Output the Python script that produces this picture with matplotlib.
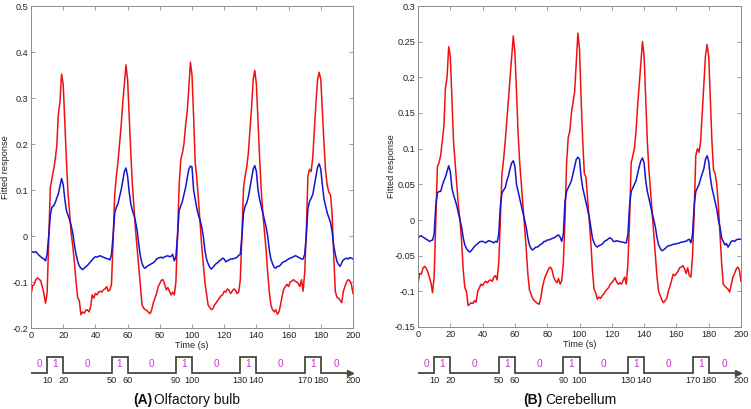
import numpy as np
import matplotlib
matplotlib.use("Agg")
import matplotlib.pyplot as plt

plt.rcParams['font.family'] = ['Liberation Sans', 'DejaVu Sans']
plt.rcParams['axes.unicode_minus'] = False

time_s = list(range(0, 201))

ob_red = [
    -0.128, -0.108, -0.105, -0.095, -0.091, -0.094, -0.097, -0.110, -0.125, -0.146,
    -0.125, -0.010, 0.105, 0.125, 0.143, 0.165, 0.195, 0.265, 0.292, 0.352,
    0.330, 0.245, 0.165, 0.093, 0.050, 0.005, -0.023, -0.059, -0.100, -0.135,
    -0.140, -0.171, -0.165, -0.168, -0.162, -0.160, -0.165, -0.155, -0.128, -0.135,
    -0.125, -0.128, -0.122, -0.120, -0.122, -0.117, -0.115, -0.110, -0.120, -0.117,
    -0.105, -0.010, 0.090, 0.130, 0.160, 0.200, 0.240, 0.290, 0.330, 0.372,
    0.340, 0.260, 0.180, 0.110, 0.060, 0.010, -0.030, -0.070, -0.110, -0.150,
    -0.157, -0.160, -0.162, -0.166, -0.169, -0.160, -0.145, -0.135, -0.125, -0.110,
    -0.103, -0.096, -0.095, -0.105, -0.117, -0.112, -0.120, -0.128, -0.122, -0.128,
    -0.100, 0.000, 0.110, 0.165, 0.180, 0.200, 0.240, 0.270, 0.320, 0.378,
    0.350, 0.260, 0.160, 0.125, 0.080, 0.030, -0.020, -0.060, -0.100, -0.125,
    -0.150, -0.155, -0.160, -0.158, -0.150, -0.145, -0.140, -0.135, -0.130, -0.128,
    -0.120, -0.122, -0.115, -0.118, -0.125, -0.120, -0.115, -0.118, -0.125, -0.122,
    -0.095, 0.000, 0.105, 0.130, 0.150, 0.180, 0.230, 0.280, 0.340, 0.360,
    0.330, 0.250, 0.170, 0.100, 0.050, 0.010, -0.030, -0.080, -0.120, -0.150,
    -0.160, -0.165, -0.160, -0.170, -0.165, -0.150, -0.130, -0.115, -0.110, -0.105,
    -0.110, -0.100, -0.098, -0.095, -0.098, -0.100, -0.103, -0.110, -0.095, -0.120,
    -0.080, 0.010, 0.130, 0.145, 0.140, 0.170, 0.230, 0.290, 0.340, 0.356,
    0.340, 0.270, 0.200, 0.140, 0.110, 0.095, 0.090, 0.050, -0.040, -0.120,
    -0.133, -0.135, -0.140, -0.145, -0.120, -0.110, -0.100, -0.095, -0.097, -0.105,
    -0.125,
]

ob_blue = [
    -0.035, -0.034, -0.036, -0.034, -0.038, -0.042, -0.045, -0.048, -0.050, -0.054,
    -0.040, 0.000, 0.045, 0.063, 0.065, 0.072, 0.082, 0.092, 0.108, 0.125,
    0.112, 0.080, 0.055, 0.045, 0.035, 0.022, 0.005, -0.020, -0.040, -0.055,
    -0.065, -0.070, -0.073, -0.070, -0.067, -0.064, -0.060, -0.056, -0.052, -0.048,
    -0.045, -0.046, -0.044, -0.043, -0.045, -0.046, -0.048, -0.049, -0.050, -0.052,
    -0.040, 0.000, 0.050, 0.062, 0.070, 0.085, 0.100, 0.120, 0.140, 0.148,
    0.130, 0.095, 0.070, 0.055, 0.045, 0.030, 0.010, -0.020, -0.045, -0.060,
    -0.068, -0.070, -0.066, -0.064, -0.062, -0.060, -0.058, -0.055, -0.050, -0.048,
    -0.047, -0.046, -0.048, -0.045, -0.044, -0.043, -0.045, -0.044, -0.040, -0.054,
    -0.045, 0.000, 0.055, 0.065, 0.075, 0.090, 0.105, 0.125, 0.145, 0.152,
    0.150, 0.100, 0.080, 0.060, 0.045, 0.035, 0.020, 0.000, -0.030, -0.050,
    -0.060, -0.068, -0.072, -0.068, -0.064, -0.060, -0.058, -0.054, -0.052, -0.048,
    -0.050, -0.056, -0.054, -0.052, -0.050, -0.050, -0.049, -0.048, -0.046, -0.042,
    -0.040, 0.000, 0.050, 0.065, 0.072, 0.085, 0.105, 0.125, 0.145, 0.153,
    0.140, 0.100, 0.080, 0.065, 0.050, 0.035, 0.020, 0.000, -0.030, -0.050,
    -0.060, -0.068, -0.070, -0.066, -0.066, -0.063, -0.058, -0.056, -0.055, -0.052,
    -0.050, -0.048, -0.047, -0.045, -0.043, -0.044, -0.046, -0.048, -0.050, -0.050,
    -0.040, 0.000, 0.060, 0.075, 0.082, 0.090, 0.110, 0.130, 0.150, 0.157,
    0.145, 0.110, 0.080, 0.065, 0.050, 0.040, 0.030, 0.010, -0.020, -0.040,
    -0.055, -0.062, -0.066, -0.058, -0.052, -0.050, -0.048, -0.050, -0.047, -0.048,
    -0.050,
]

cb_red = [
    -0.090, -0.075, -0.076, -0.068, -0.065, -0.067, -0.072, -0.080, -0.088, -0.102,
    -0.080, 0.000, 0.075, 0.080, 0.090, 0.110, 0.130, 0.185, 0.200, 0.243,
    0.230, 0.170, 0.110, 0.080, 0.050, 0.020, 0.000, -0.030, -0.070, -0.095,
    -0.100, -0.120, -0.118, -0.116, -0.117, -0.113, -0.115, -0.100, -0.095, -0.090,
    -0.092, -0.088, -0.086, -0.088, -0.085, -0.084, -0.086, -0.080, -0.078, -0.084,
    -0.060, 0.000, 0.065, 0.085, 0.110, 0.140, 0.170, 0.200, 0.230, 0.258,
    0.235, 0.180, 0.120, 0.080, 0.050, 0.020, -0.010, -0.040, -0.075, -0.098,
    -0.104, -0.110, -0.113, -0.115, -0.117, -0.118, -0.110, -0.095, -0.085, -0.078,
    -0.073, -0.068, -0.066, -0.070, -0.080, -0.085, -0.088, -0.082, -0.090, -0.085,
    -0.060, 0.000, 0.080, 0.115, 0.125, 0.150, 0.165, 0.180, 0.220, 0.262,
    0.240, 0.170, 0.110, 0.065, 0.060, 0.030, 0.000, -0.030, -0.070, -0.097,
    -0.102, -0.111, -0.108, -0.110, -0.106, -0.104, -0.100, -0.097, -0.095, -0.090,
    -0.088, -0.085, -0.081, -0.087, -0.090, -0.088, -0.090, -0.085, -0.080, -0.090,
    -0.060, 0.000, 0.080, 0.090, 0.100, 0.125, 0.160, 0.190, 0.220, 0.250,
    0.230, 0.170, 0.110, 0.070, 0.040, 0.010, -0.020, -0.050, -0.080, -0.100,
    -0.106, -0.112, -0.116, -0.113, -0.110, -0.100, -0.093, -0.085, -0.076, -0.078,
    -0.075, -0.072, -0.067, -0.066, -0.064, -0.068, -0.075, -0.067, -0.078, -0.080,
    -0.050, 0.010, 0.090, 0.100, 0.095, 0.110, 0.150, 0.190, 0.230, 0.246,
    0.230, 0.170, 0.110, 0.070, 0.065, 0.050, 0.020, -0.020, -0.060, -0.090,
    -0.093, -0.095, -0.097, -0.101, -0.090, -0.080, -0.075, -0.069, -0.066, -0.070,
    -0.086,
]

cb_blue = [
    -0.025, -0.023, -0.022, -0.024, -0.025, -0.027, -0.028, -0.030, -0.029, -0.028,
    -0.020, 0.020, 0.038, 0.040, 0.040, 0.048, 0.055, 0.060, 0.068, 0.076,
    0.068, 0.045, 0.035, 0.028, 0.020, 0.010, 0.000, -0.010, -0.025, -0.035,
    -0.040, -0.043, -0.045, -0.043, -0.040, -0.037, -0.035, -0.033, -0.031, -0.030,
    -0.030, -0.031, -0.032, -0.030, -0.029, -0.030, -0.031, -0.032, -0.030, -0.031,
    -0.020, 0.020, 0.038, 0.042, 0.045, 0.055, 0.062, 0.072, 0.080, 0.083,
    0.075, 0.050, 0.040, 0.030, 0.020, 0.010, 0.000, -0.010, -0.025, -0.035,
    -0.040, -0.042, -0.040, -0.038, -0.038, -0.036, -0.034, -0.033, -0.030, -0.030,
    -0.028, -0.028, -0.027, -0.026, -0.025, -0.024, -0.022, -0.021, -0.024, -0.030,
    -0.020, 0.025, 0.040, 0.045, 0.050, 0.055, 0.065, 0.075, 0.085, 0.088,
    0.085, 0.060, 0.045, 0.035, 0.025, 0.015, 0.005, -0.010, -0.025, -0.032,
    -0.036, -0.038, -0.036, -0.035, -0.034, -0.031, -0.029, -0.028, -0.026, -0.025,
    -0.027, -0.030, -0.030, -0.029, -0.030, -0.030, -0.031, -0.031, -0.032, -0.032,
    -0.020, 0.020, 0.040, 0.045, 0.050, 0.055, 0.065, 0.075, 0.083, 0.087,
    0.080, 0.055, 0.040, 0.030, 0.020, 0.010, 0.000, -0.010, -0.025, -0.035,
    -0.040, -0.043, -0.042, -0.040, -0.038, -0.036, -0.036, -0.035, -0.034, -0.034,
    -0.033, -0.033, -0.032, -0.031, -0.031, -0.030, -0.030, -0.028, -0.027, -0.032,
    -0.020, 0.020, 0.040, 0.045, 0.050, 0.058, 0.065, 0.072, 0.085, 0.090,
    0.082, 0.060, 0.045, 0.035, 0.025, 0.015, 0.000, -0.010, -0.025, -0.030,
    -0.035, -0.033, -0.038, -0.034, -0.030, -0.029, -0.030, -0.028, -0.027, -0.027,
    -0.027,
]

ob_yticks = [-0.2, -0.1, 0, 0.1, 0.2, 0.3, 0.4, 0.5]
ob_yticklabels = ["-0.2", "-0.1", "0", "0.1", "0.2", "0.3", "0.4", "0.5"]
cb_yticks = [-0.15, -0.1, -0.05, 0, 0.05, 0.1, 0.15, 0.2, 0.25, 0.3]
cb_yticklabels = ["-0.15", "-0.1", "-0.05", "0", "0.05", "0.1", "0.15", "0.2", "0.25", "0.3"]
xticks = [0, 20, 40, 60, 80, 100, 120, 140, 160, 180, 200]

stim_edges = [0, 10, 20, 50, 60, 90, 100, 130, 140, 170, 180, 200]
stim_levels = [0, 1, 0, 1, 0, 1, 0, 1, 0, 1, 0]
stim_edge_labels = ["10", "20", "50", "60", "90", "100", "130", "140", "170", "180", "200"]

panels = [
    dict(red=ob_red, blue=ob_blue, ylim=(-0.2, 0.5), yticks=ob_yticks, ytl=ob_yticklabels,
         tag="(A)", name="Olfactory bulb"),
    dict(red=cb_red, blue=cb_blue, ylim=(-0.15, 0.3), yticks=cb_yticks, ytl=cb_yticklabels,
         tag="(B)", name="Cerebellum"),
]

W, H = 751, 409
fig = plt.figure(figsize=(W / 100, H / 100), dpi=100)

def fx(px):
    return px / W

def fy(py):
    return 1 - py / H

axes_px = [(31, 353, 6, 328), (418, 741, 6, 327)]
ylabel_x = [6, 391]
spine_col = "#8c8c8c"
text_col = "#222222"
step_col = "#4a4a38"
mag = "#cc33cc"
fs = 6.6

for p, (x0, x1, y0, y1), ylx in zip(panels, axes_px, ylabel_x):
    ax = fig.add_axes([fx(x0), fy(y1), fx(x1 - x0), fy(y0) - fy(y1)])
    ax.plot(time_s, p["red"], color="#ee1111", lw=1.1)
    ax.plot(time_s, p["blue"], color="#1515cc", lw=1.1)
    ax.set_xlim(0, 200)
    ax.set_ylim(*p["ylim"])
    ax.set_xticks(xticks)
    ax.set_xticklabels([str(t) for t in xticks])
    ax.set_yticks(p["yticks"])
    ax.set_yticklabels(p["ytl"])
    ax.tick_params(direction="in", length=3, width=0.6, colors=spine_col,
                   labelcolor=text_col, labelsize=fs, top=True, right=True, pad=2)
    for s in ax.spines.values():
        s.set_color(spine_col)
        s.set_linewidth(0.7)
    ax.set_xlabel("Time (s)", fontsize=fs, color=text_col, labelpad=1)
    fig.text(fx(ylx), (fy(y0) + fy(y1)) / 2, "Fitted response", rotation=90,
             ha="center", va="center", fontsize=fs, color=text_col)

    # stimulus timing diagram
    sax = fig.add_axes([fx(x0), fy(392), fx(x1 - x0), fy(350) - fy(392)])
    sax.set_xlim(0, 200)
    sax.set_ylim(-1.23, 1.45)
    sax.axis("off")
    sax.step(stim_edges, stim_levels + [stim_levels[-1]], where="post",
             color=step_col, lw=1.3, solid_joinstyle="miter")
    sax.plot([stim_edges[-1] - 2], [0], marker=">", ms=4, color=step_col, mec=step_col)
    for e, lab in zip(stim_edges[1:], stim_edge_labels):
        sax.text(e, -0.5, lab, ha="center", va="center", fontsize=fs, color=text_col)
    for a, b, lv in zip(stim_edges[:-1], stim_edges[1:], stim_levels):
        sax.text((a + b) / 2, 0.55, str(lv), ha="center", va="center", fontsize=7.2, color=mag)

cap_px = [(152, 154), (542, 545)]
for p, (rx, lx) in zip(panels, cap_px):
    fig.text(fx(rx), fy(400), p["tag"], ha="right", va="center", fontsize=10,
             fontweight="bold", color="#111111")
    fig.text(fx(lx), fy(400), p["name"], ha="left", va="center", fontsize=10,
             color="#111111")

fig.savefig("out.png", dpi=100)
